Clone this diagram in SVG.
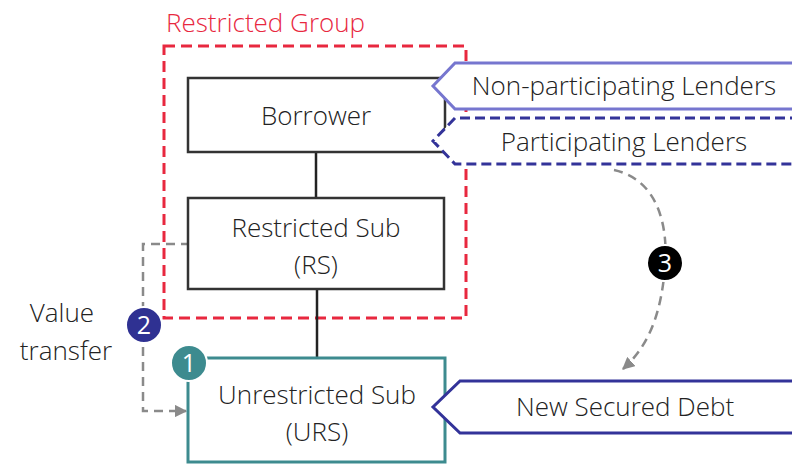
<svg xmlns="http://www.w3.org/2000/svg" width="792" height="464" viewBox="0 0 792 464">
  <defs>
    <style>
      text { font-family: "Open Sans", "Noto Sans", "Liberation Sans", sans-serif; font-weight: 300; fill: #222; }
      .lbl { font-size: 26px; text-anchor: middle; }
      .box { fill: #fff; stroke: #333; stroke-width: 2.5; }
      .link { stroke: #222; stroke-width: 2.5; fill: none; }
      .flow { stroke: #8a8a8a; stroke-width: 2.5; fill: none; stroke-dasharray: 9 6; }
      .badge { stroke: #fff; stroke-width: 2; }
      .badge-txt { font-size: 25px; fill: #fff; text-anchor: middle; font-weight: 400; }
    </style>
    <marker id="arrow" viewBox="0 0 10 10" refX="9" refY="5" markerWidth="5" markerHeight="5" orient="auto" markerUnits="strokeWidth">
      <path d="M0,0 L10,5 L0,10 z" fill="#8a8a8a"/>
    </marker>
  </defs>

  <rect width="792" height="464" fill="#fff"/>

  <!-- Restricted group boundary -->
  <g id="restricted-group">
    <rect x="164" y="46" width="302" height="272" fill="none" stroke="#e8283f" stroke-width="3" stroke-dasharray="11 6"/>
    <text x="166" y="32" style="font-size:26px;fill:#e8283f">Restricted Group</text>
  </g>

  <!-- Connectors -->
  <g id="connectors">
    <line class="link" x1="316" y1="152" x2="316" y2="198"/>
    <line class="link" x1="317" y1="289" x2="317" y2="358"/>
    <polyline class="flow" points="190,244 143,244 143,411 186,411" marker-end="url(#arrow)"/>
    <path class="flow" d="M614,170 C660,180 668,230 665,265 C662,310 650,345 623,369" marker-end="url(#arrow)"/>
  </g>

  <g id="borrower">
    <rect class="box" x="188" y="78" width="257" height="74"/>
    <text class="lbl" x="316" y="125">Borrower</text>
  </g>

  <g id="restricted-sub">
    <rect class="box" x="188" y="198" width="256" height="91"/>
    <text class="lbl" x="316" y="237">Restricted Sub</text>
    <text class="lbl" x="316" y="274">(RS)</text>
  </g>

  <g id="unrestricted-sub">
    <rect x="188" y="358" width="257" height="104" fill="#fff" stroke="#3d8b8f" stroke-width="3"/>
    <text class="lbl" x="317" y="404">Unrestricted Sub</text>
    <text class="lbl" x="317" y="441">(URS)</text>
  </g>

  <g id="non-participating-lenders">
    <path d="M800,63 L455,63 L433,86 L455,109 L800,109" fill="#fff" stroke="#7676cf" stroke-width="3"/>
    <text class="lbl" x="624" y="95">Non-participating Lenders</text>
  </g>

  <g id="participating-lenders">
    <path d="M800,118 L455,118 L433,141 L455,164 L800,164" fill="#fff" stroke="#333399" stroke-width="3" stroke-dasharray="10 5"/>
    <text class="lbl" x="624" y="151">Participating Lenders</text>
  </g>

  <g id="new-secured-debt">
    <path d="M800,381 L460,381 L433,407 L460,433 L800,433" fill="#fff" stroke="#333399" stroke-width="3"/>
    <text class="lbl" x="625" y="416">New Secured Debt</text>
  </g>

  <g id="value-transfer-label">
    <text class="lbl" x="62" y="322">Value</text>
    <text class="lbl" x="66" y="360">transfer</text>
  </g>

  <g id="badge-1">
    <circle class="badge" cx="189" cy="363" r="18" fill="#3d8b8f"/>
    <text class="badge-txt" x="189" y="372">1</text>
  </g>
  <g id="badge-2">
    <circle class="badge" cx="144" cy="325" r="18" fill="#2f3192"/>
    <text class="badge-txt" x="144" y="334">2</text>
  </g>
  <g id="badge-3">
    <circle class="badge" cx="665" cy="263" r="18" fill="#000"/>
    <text class="badge-txt" x="665" y="272">3</text>
  </g>
</svg>
